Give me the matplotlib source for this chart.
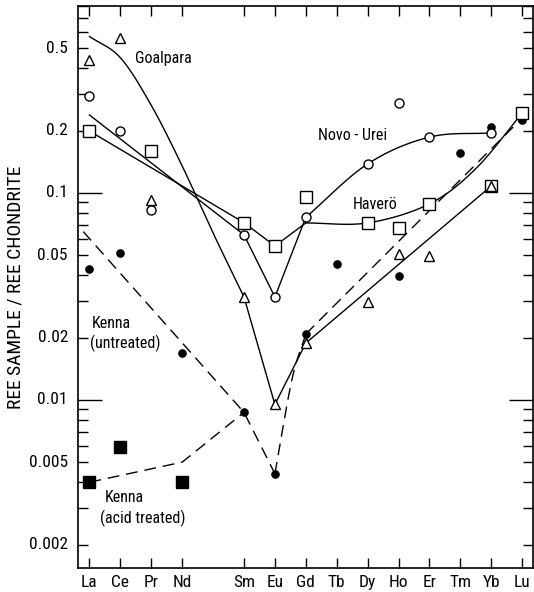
import numpy as np
import matplotlib
matplotlib.use("Agg")
import matplotlib.pyplot as plt
from matplotlib import font_manager
from matplotlib.ticker import FixedLocator, NullFormatter, LogLocator

nan = np.nan

# ---------------- data ----------------
elements = ['La', 'Ce', 'Pr', 'Nd', 'Sm', 'Eu', 'Gd', 'Tb', 'Dy', 'Ho', 'Er', 'Tm', 'Yb', 'Lu']
atomic_no = [57, 58, 59, 60, 62, 63, 64, 65, 66, 67, 68, 69, 70, 71]

goalpara = [0.44, 0.56, 0.0925, nan, 0.0314, 0.0095, 0.0188, nan, 0.0297, 0.0507, 0.0496, nan, 0.108, nan]
novo_urei = [0.294, 0.199, 0.083, nan, 0.0627, 0.0314, 0.0762, nan, 0.138, 0.272, 0.186, nan, 0.195, nan]
havero = [0.199, nan, 0.16, nan, 0.0718, 0.0554, 0.0956, nan, 0.0716, 0.0677, 0.0885, nan, 0.108, 0.243]
kenna_untreated = [0.0429, 0.0515, nan, 0.0169, 0.0087, 0.0044, 0.0208, 0.0454, nan, 0.0397, nan, 0.156, 0.208, 0.225]
kenna_acid = [0.004, 0.0059, nan, 0.004, nan, nan, nan, nan, nan, nan, nan, nan, nan, nan]

# fitted curves drawn in the original (knots: atomic number, value)
goalpara_curve_x = [57, 58, 59, 60, 61, 62]
goalpara_curve_y = [0.57, 0.45, 0.265, 0.135, 0.064, 0.0314]
goalpara_line_x = [62, 63, 64, 70]
goalpara_line_y = [0.0314, 0.0095, 0.0188, 0.108]

novo_line_x = [57, 62, 63, 64]
novo_line_y = [0.238, 0.0627, 0.0314, 0.0762]
novo_curve_x = [64, 66, 68, 70]
novo_curve_y = [0.0762, 0.138, 0.186, 0.195]

havero_line_x = [57, 62, 63, 64]
havero_line_y = [0.199, 0.0718, 0.0554, 0.0716]
havero_curve_x = [64, 66, 68, 69.5, 71]
havero_curve_y = [0.0716, 0.0716, 0.0885, 0.131, 0.243]

kenna_u_line_x = [56.8, 62, 63]
kenna_u_line_y = [0.065, 0.0087, 0.0044]
kenna_u_curve_x = [63, 63.55, 64]
kenna_u_curve_y = [0.0044, 0.0125, 0.0208]
kenna_u_tail_x = [64, 71]
kenna_u_tail_y = [0.0208, 0.23]

kenna_a_line_x = [57, 60, 62]
kenna_a_line_y = [0.004, 0.005, 0.0087]

ytick_vals = [0.002, 0.005, 0.01, 0.02, 0.05, 0.1, 0.2, 0.5]
ytick_labels = ['0.002', '0.005', '0.01', '0.02', '0.05', '0.1', '0.2', '0.5']

# ---------------- fonts ----------------
avail = {f.name for f in font_manager.fontManager.ttflist}
family = 'DejaVu Sans'
for cand in ['Liberation Sans Narrow', 'Roboto Condensed', 'Open Sans Condensed', 'Liberation Sans']:
    if cand in avail:
        family = cand
        break
plt.rcParams['font.family'] = [family, 'DejaVu Sans']


def smooth(xs, ys, n=40):
    """Catmull-Rom spline through knots in (x, log10 y) space."""
    x = np.asarray(xs, float)
    ly = np.log10(np.asarray(ys, float))
    P = np.column_stack([x, ly])
    P = np.vstack([2 * P[0] - P[1], P, 2 * P[-1] - P[-2]])
    out = []
    t = np.linspace(0, 1, n)[:, None]
    for i in range(1, len(P) - 2):
        p0, p1, p2, p3 = P[i - 1], P[i], P[i + 1], P[i + 2]
        seg = 0.5 * ((2 * p1) + (-p0 + p2) * t + (2 * p0 - 5 * p1 + 4 * p2 - p3) * t ** 2
                     + (-p0 + 3 * p1 - 3 * p2 + p3) * t ** 3)
        out.append(seg if i == 1 else seg[1:])
    out = np.vstack(out)
    return out[:, 0], 10 ** out[:, 1]


W, H = 534, 592
fig = plt.figure(figsize=(W / 100, H / 100), dpi=100)
ax = fig.add_axes([78 / W, 1 - 568 / H, (533 - 78) / W, (568 - 6) / H])
ax.set_yscale('log')
ax.set_xlim(56.63, 71.35)
ax.set_ylim(0.00154, 0.80)

lw = 1.0
lc = 'black'
dash = (0, (8.5, 5))

# lines
ax.plot(*smooth(goalpara_curve_x, goalpara_curve_y), color=lc, lw=lw)
ax.plot(goalpara_line_x, goalpara_line_y, color=lc, lw=lw)
ax.plot(novo_line_x, novo_line_y, color=lc, lw=lw)
ax.plot(*smooth(novo_curve_x, novo_curve_y), color=lc, lw=lw)
ax.plot(havero_line_x, havero_line_y, color=lc, lw=lw)
ax.plot(*smooth(havero_curve_x, havero_curve_y), color=lc, lw=lw)
ax.plot(kenna_u_line_x, kenna_u_line_y, color=lc, lw=lw, linestyle=dash)
ax.plot(*smooth(kenna_u_curve_x, kenna_u_curve_y), color=lc, lw=lw, linestyle=dash)
ax.plot(kenna_u_tail_x, kenna_u_tail_y, color=lc, lw=lw, linestyle=dash)
ax.plot(kenna_a_line_x, kenna_a_line_y, color=lc, lw=lw, linestyle=dash)

# markers
mk = dict(linestyle='none', markeredgecolor='black', markeredgewidth=1.0)
ax.plot(atomic_no, kenna_untreated, marker='o', markersize=5.2, markerfacecolor='black', zorder=3, **mk)
ax.plot(atomic_no, kenna_acid, marker='s', markersize=8, markerfacecolor='black', zorder=3, **mk)
ax.plot(atomic_no, havero, marker='s', markersize=8, markerfacecolor='white', zorder=4, **mk)
ax.plot(atomic_no, novo_urei, marker='o', markersize=6.5, markerfacecolor='white', zorder=4, **mk)
ax.plot(atomic_no, goalpara, marker='^', markersize=6.5, markerfacecolor='white', zorder=5, **mk)

# labels
fs_ann = 11.5
ax.text(58.47, 0.448, 'Goalpara', fontsize=fs_ann, va='center', ha='left')
ax.text(64.39, 0.19, 'Novo - Urei', fontsize=fs_ann, va='center', ha='left')
ax.text(65.53, 0.0875, 'Haverö', fontsize=fs_ann, va='center', ha='left')
ax.text(57.08, 0.0235, 'Kenna', fontsize=fs_ann, va='center', ha='left')
ax.text(57.02, 0.0188, '(untreated)', fontsize=fs_ann, va='center', ha='left')
ax.text(57.5, 0.00336, 'Kenna', fontsize=fs_ann, va='center', ha='left')
ax.text(57.34, 0.00268, '(acid treated)', fontsize=fs_ann, va='center', ha='left')

# ticks
ax.xaxis.set_major_locator(FixedLocator(atomic_no))
ax.set_xticklabels(elements, fontsize=12.5)
ax.tick_params(axis='x', which='major', direction='in', length=7, width=1.0,
               top=True, bottom=True, pad=5)

ax.yaxis.set_major_locator(LogLocator(base=10, numticks=10))
ax.yaxis.set_minor_locator(LogLocator(base=10, subs=np.arange(2, 10), numticks=10))
ax.yaxis.set_major_formatter(NullFormatter())
ax.yaxis.set_minor_formatter(NullFormatter())
ax.tick_params(axis='y', which='major', direction='in', length=17, width=1.0,
               left=True, right=True)
ax.tick_params(axis='y', which='minor', direction='in', length=7, width=1.0,
               left=True, right=True)
# labelled values
for v, lab in zip(ytick_vals, ytick_labels):
    ax.text(-0.022, v, lab, transform=ax.get_yaxis_transform(), ha='right', va='center',
            fontsize=12.5)

ax.set_ylabel('REE SAMPLE / REE CHONDRITE', fontsize=14)
ax.yaxis.set_label_coords(-0.118, 0.5)

for s in ax.spines.values():
    s.set_linewidth(1.2)

fig.savefig('out.png', dpi=100)
